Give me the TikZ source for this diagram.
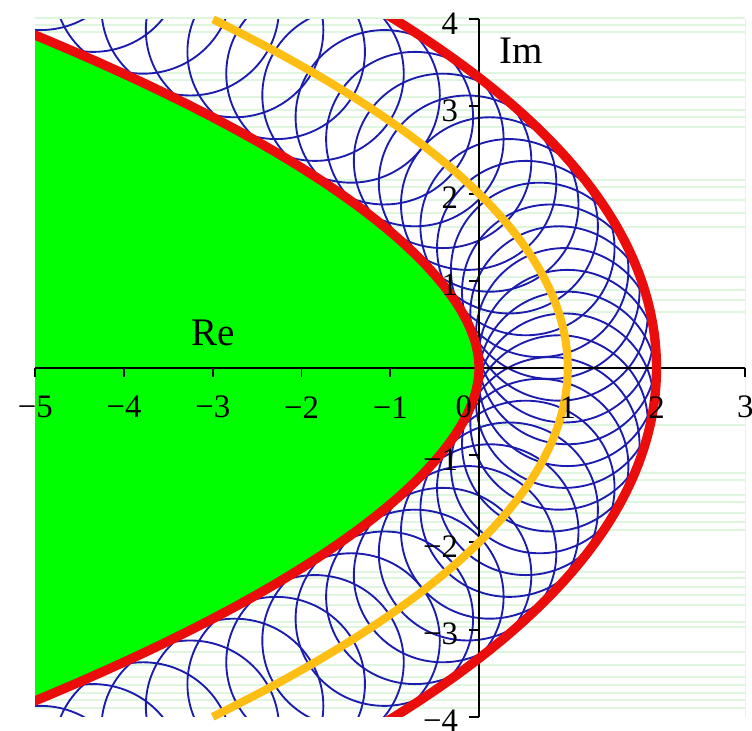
\documentclass[tikz,border=0pt]{standalone}
\usepackage{fontspec}
\setmainfont{Liberation Serif}
\definecolor{cgreen}{RGB}{0,255,0}
\definecolor{cred}{RGB}{235,12,12}
\definecolor{corange}{RGB}{255,190,20}
\definecolor{cblue}{RGB}{28,28,175}
\definecolor{cfaint}{RGB}{222,245,222}
\begin{document}
\begin{tikzpicture}[x=1cm,y=0.9825cm,
  ticklbl/.style={font=\fontsize{10.5}{12}\selectfont, inner sep=0pt},
  axlbl/.style={font=\fontsize{12.5}{14}\selectfont, inner sep=0pt},
  circ/.style={draw=cblue, line width=0.6pt},
  envel/.style={draw=cred, line width=3pt},
  parab/.style={draw=corange, line width=2.6pt},
  faint/.style={draw=cfaint, line width=0.45pt},
  axisline/.style={draw=black, line width=0.6pt}]
\useasboundingbox (-5.397,-4.163) rectangle (3.076,4.22);
% faint rendering stripes of the original
\foreach \p in {18,25,32,73,80,97,110,117,127,180,187,200,213,227,277,290,300,312,
                425,473,480,495,502,513,522,530,572,578,587,595,605,622,627,652,665,677,685,693,700,708}
  \draw[faint] (-5,{(368-\p)/87.2}) -- (3,{(368-\p)/87.2});
\draw[faint] (3,-4) -- (3,4);
\begin{scope}
\clip (-5,-4) rectangle (3,4);
\fill[cgreen] plot[domain=-5:5,samples=201,variable=\t]
  ({1-\t*\t/4-1/sqrt(1+\t*\t/4)},{\t-(\t/2)/sqrt(1+\t*\t/4)})
  -- (-7,5) -- (-7,-5) -- cycle;
\foreach \i in {-24,...,23} {
  \pgfmathsetmacro\tt{(\i+0.5)*0.25}
  \draw[circ] ({1-\tt*\tt/4},{\tt}) circle[radius=1];
}
\end{scope}
\draw[axisline] (-5,0) -- (3,0);
\draw[axisline] (0,-4) -- (0,4);
\foreach \x in {-5,...,3} \draw[axisline] (\x,0) -- (\x,-0.1);
\foreach \y in {-4,...,-1,1,2,3,4} \draw[axisline] (0,\y) -- (-0.11,\y);
\begin{scope}
\clip (-5,-4) rectangle (3,4);
\draw[envel] plot[domain=-5:5,samples=201,variable=\t]
  ({1-\t*\t/4-1/sqrt(1+\t*\t/4)},{\t-(\t/2)/sqrt(1+\t*\t/4)});
\draw[envel] plot[domain=-3.4:3.4,samples=161,variable=\t]
  ({1-\t*\t/4+1/sqrt(1+\t*\t/4)},{\t+(\t/2)/sqrt(1+\t*\t/4)});
\end{scope}
\draw[parab] plot[domain=-4:4,samples=161,variable=\t] ({1-\t*\t/4},{\t});
\foreach \x/\l in {-5/−5,-4/−4,-3/−3,-2/−2,-1/−1,1/1,2/2,3/3}
  \node[ticklbl] (xl\x) at (\x,-0.45) {\l};
\node[ticklbl] (xl0) at (-0.17,-0.45) {0};
\foreach \y/\l in {-4/−4,-3/−3,-2/−2,-1/−1,1/1,2/2,3/3,4/4}
  \node[ticklbl,anchor=east] (yl\y) at (-0.23,\y-0.05) {\l};
\node[axlbl] (re) at (-3.0,0.40) {Re};
\node[axlbl] (im) at (0.47,3.64) {Im};
\end{tikzpicture}
\end{document}
